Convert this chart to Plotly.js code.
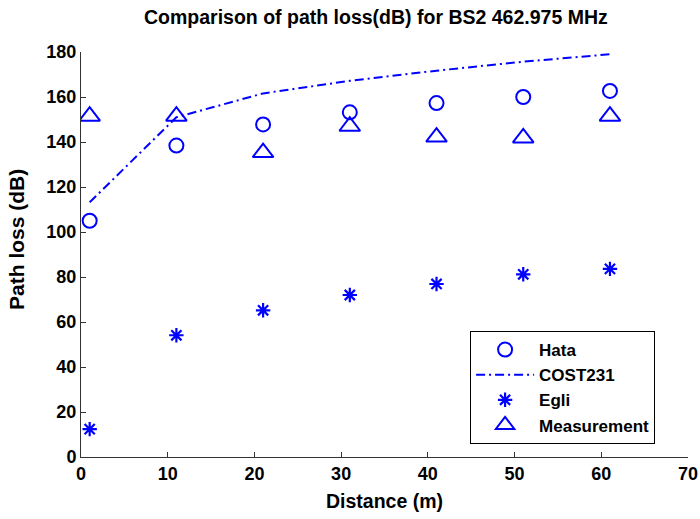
<!DOCTYPE html>
<html>
<head>
<meta charset="utf-8">
<script src="https://cdn.plot.ly/plotly-3.0.1.min.js"></script>
<style>html,body{margin:0;padding:0;background:#fff;}#chart{width:700px;height:519px;}</style>
</head>
<body>
<div id="chart"></div>
<script>
const distance = [1, 11, 21, 31, 41, 51, 61];
const hata = [105, 138.4, 147.8, 153.2, 157.3, 160, 162.7];
const cost231 = [113.2, 151, 161.6, 167.2, 171.7, 175.7, 179];
const egli = [12.4, 54.1, 65.2, 72, 76.9, 81.2, 83.6];
const measurement = [151.5, 151.5, 135.3, 147, 142.2, 141.8, 151.5];
const xTicks = [0, 10, 20, 30, 40, 50, 60, 70];
const yTicks = [0, 20, 40, 60, 80, 100, 120, 140, 160, 180];

const blue = '#0000ff';
const fontFam = 'Liberation Sans, Arial, Helvetica, sans-serif';

const traces = [
  {x: distance, y: hata, name: 'Hata', mode: 'markers', type: 'scatter',
   marker: {symbol: 'circle-open', size: 14, color: blue, line: {width: 2, color: blue}}},
  {x: distance, y: cost231, name: 'COST231', mode: 'lines', type: 'scatter',
   line: {color: blue, width: 2, dash: '9px,4px,2px,4px'}},
  {x: distance, y: egli, name: 'Egli', mode: 'markers', type: 'scatter',
   marker: {symbol: 'asterisk-open', size: 12, color: blue, line: {width: 2.2, color: blue}}},
  {x: distance, y: measurement, name: 'Measurement', mode: 'markers', type: 'scatter',
   marker: {symbol: 'triangle-up-open', size: 18, color: blue, line: {width: 2, color: blue}}}
];

const layout = {
  width: 700, height: 519,
  margin: {l: 81, r: 12, t: 52, b: 62},
  paper_bgcolor: '#fff', plot_bgcolor: '#fff',
  font: {family: fontFam, size: 18, color: '#000', weight: 'bold'},
  title: {text: 'Comparison of path loss(dB) for BS2 462.975 MHz',
          font: {family: fontFam, size: 19.5, color: '#000', weight: 'bold'},
          x: 0.537, xanchor: 'center', y: 0.967, yanchor: 'middle'},
  xaxis: {range: [0, 70], tickvals: xTicks,
          showgrid: false, zeroline: false, showline: true, linecolor: '#333', linewidth: 1,
          ticks: 'inside', ticklen: 5, tickcolor: '#333',
          tickfont: {family: fontFam, size: 18, weight: 'bold'},
          title: {text: 'Distance (m)', font: {family: fontFam, size: 19.5, weight: 'bold'}, standoff: 11}},
  yaxis: {range: [0, 180], tickvals: yTicks,
          showgrid: false, zeroline: false, showline: true, linecolor: '#333', linewidth: 1,
          ticks: 'inside', ticklen: 5, tickcolor: '#333',
          tickfont: {family: fontFam, size: 18, weight: 'bold'}},
  annotations: [
    {text: 'Path loss (dB)', textangle: -90, showarrow: false,
     xref: 'paper', yref: 'paper', x: -0.1054, y: 0.536, xanchor: 'center', yanchor: 'middle',
     font: {family: fontFam, size: 21, color: '#000', weight: 'bold'}}
  ],
  showlegend: true,
  legend: {x: 0.641, y: 0.311, xanchor: 'left', yanchor: 'top',
           bordercolor: '#000', borderwidth: 1, bgcolor: '#fff',
           font: {family: fontFam, size: 17, weight: 'bold'},
           tracegroupgap: 0, itemwidth: 58}
};

Plotly.newPlot('chart', traces, layout, {displayModeBar: false, staticPlot: true});
</script>
</body>
</html>
